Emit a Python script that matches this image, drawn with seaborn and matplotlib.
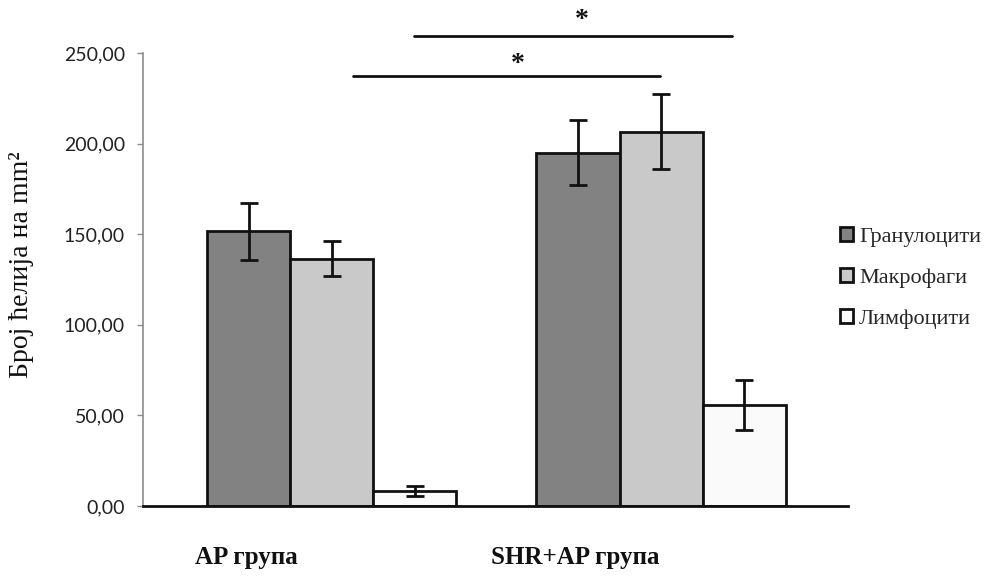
import matplotlib
matplotlib.use("Agg")
import matplotlib.pyplot as plt
import matplotlib.transforms as mtransforms
from matplotlib.ticker import FuncFormatter
from matplotlib.font_manager import FontProperties
import seaborn as sns
import pandas as pd
import numpy as np

# ---- data ----
groups = ["AP група", "SHR+AP група"]
cell_types = ["Гранулоцити", "Макрофаги", "Лимфоцити"]
granulocytes = [151.5, 195.0]
macrophages = [136.5, 206.5]
lymphocytes = [8.5, 56.0]
granulocytes_err = [15.5, 18.0]
macrophages_err = [9.5, 20.7]
lymphocytes_err = [2.8, 13.8]
y_ticks = [0, 50, 100, 150, 200, 250]
# significance brackets: (x_start, x_end, y_line)
sig_lines = [(0.063, 0.997, 237.3), (0.249, 1.215, 259.4)]
sig_stars = [(0.564, 243.5), (0.760, 268.0)]

means = {"Гранулоцити": granulocytes, "Макрофаги": macrophages, "Лимфоцити": lymphocytes}
errs = {"Гранулоцити": granulocytes_err, "Макрофаги": macrophages_err, "Лимфоцити": lymphocytes_err}
rows = []
for ct in cell_types:
    for g, m, e in zip(groups, means[ct], errs[ct]):
        rows.append({"group": g, "type": ct, "value": m, "err": e})
df = pd.DataFrame(rows)

sns.set_theme(style="white")
plt.rcParams["font.family"] = ["Liberation Serif", "DejaVu Serif"]
serif = ["Liberation Serif", "DejaVu Serif"]

fig = plt.figure(figsize=(9.84, 5.81), dpi=100)
ax = fig.add_axes([143 / 984, 1 - 506 / 581, (848 - 143) / 984, (506 - 53) / 581])

palette = {"Гранулоцити": "#828282", "Макрофаги": "#c9c9c9", "Лимфоцити": "#fafafa"}
sns.barplot(data=df, x="group", y="value", hue="type", order=groups,
            hue_order=cell_types, palette=palette, width=0.757,
            errorbar=None, edgecolor="#111111", linewidth=2.0, ax=ax,
            saturation=1)

# error bars placed at the bar centres
for ct, cont in zip(cell_types, ax.containers):
    sub = df[df["type"] == ct].set_index("group").loc[groups]
    xs = [b.get_x() + b.get_width() / 2 for b in cont]
    ax.errorbar(xs, sub["value"].values, yerr=sub["err"].values, fmt="none",
                ecolor="#111111", elinewidth=2.0, capsize=6.5, capthick=2.0, zorder=5)

ax.set_xlim(-0.574, 1.568)
ax.set_ylim(0, 250)
ax.set_yticks(y_ticks)
ax.yaxis.set_major_formatter(FuncFormatter(lambda v, p: f"{v:.2f}".replace(".", ",")))
for lab in ax.get_yticklabels():
    lab.set_fontfamily(["Lato", "DejaVu Sans"])
    lab.set_fontsize(14)
    lab.set_color("#222222")
ax.tick_params(axis="y", left=True, length=4, width=1, color="#8c8c8c", pad=9)
ax.tick_params(axis="x", bottom=False, labelsize=18, pad=23)
for lab in ax.get_xticklabels():
    lab.set_fontweight("bold")
    lab.set_fontfamily(serif)
    lab.set_color("#111111")
    lab.set_transform(lab.get_transform() + mtransforms.ScaledTranslation(-86 / 100, 0, fig.dpi_scale_trans))

sns.despine(ax=ax, top=True, right=True)
ax.spines["left"].set_color("#8c8c8c")
ax.spines["left"].set_linewidth(1.2)
ax.spines["bottom"].set_color("#111111")
ax.spines["bottom"].set_linewidth(2.0)
ax.set_xlabel("")
ax.set_ylabel("Број ћелија на mm²", fontsize=20, color="#111111", fontfamily=serif)
ax.yaxis.set_label_coords(-0.155, 0.532)

for x0, x1, yv in sig_lines:
    ax.plot([x0, x1], [yv, yv], color="#111111", lw=2.0, clip_on=False)
for xs_, ys_ in sig_stars:
    ax.text(xs_, ys_, "*", ha="center", va="center", fontsize=20, color="#111111",
            fontfamily=serif, fontweight="bold", clip_on=False)

handles, labels = ax.get_legend_handles_labels()
ax.legend(handles, labels, loc="center left", bbox_to_anchor=(829 / 984, 1 - 278 / 581),
          bbox_transform=fig.transFigure, frameon=False,
          prop=FontProperties(family=serif, size=16),
          handlelength=0.6, handleheight=0.6, handletextpad=0.25, labelspacing=0.95,
          borderpad=0)

fig.savefig("out.png", dpi=100)
